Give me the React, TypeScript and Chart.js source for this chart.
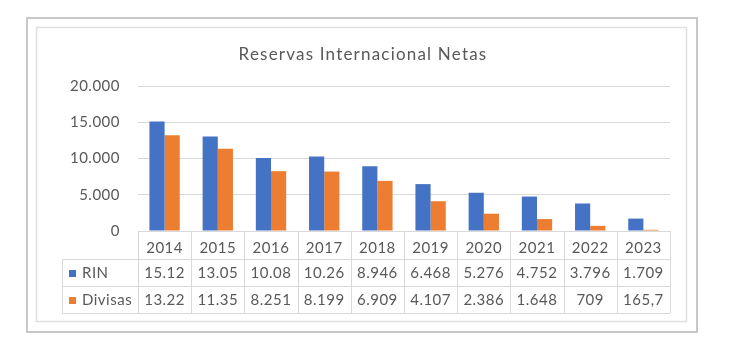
import React, { useEffect, useRef } from "react";
import Chart from "chart.js/auto";

const years = ["2014", "2015", "2016", "2017", "2018", "2019", "2020", "2021", "2022", "2023"];
const rinValues = [15120, 13050, 10080, 10260, 8946, 6468, 5276, 4752, 3796, 1709];
const divisasValues = [13220, 11350, 8251, 8199, 6909, 4107, 2386, 1648, 709, 165.7];
const rinLabels = ["15.12", "13.05", "10.08", "10.26", "8.946", "6.468", "5.276", "4.752", "3.796", "1.709"];
const divisasLabels = ["13.22", "11.35", "8.251", "8.199", "6.909", "4.107", "2.386", "1.648", "709", "165,7"];
const seriesNames = ["RIN", "Divisas"];
const titleText = "Reservas Internacional Netas";

const BLUE = "#4472C4";
const ORANGE = "#ED7D31";
const TEXT = "#595959";
const LINE = "#D9D9D9";
const FONT = "Lato, 'Open Sans', sans-serif";

export default function App() {
  const ref = useRef<HTMLCanvasElement | null>(null);

  useEffect(() => {
    const canvas = ref.current;
    if (!canvas) return;

    const framePlugin = {
      id: "frame",
      beforeDraw(chart: any) {
        const ctx = chart.ctx;
        ctx.save();
        ctx.fillStyle = "#ffffff";
        ctx.fillRect(0, 0, chart.width, chart.height);
        ctx.strokeStyle = "#C8C8C8";
        ctx.lineWidth = 2;
        ctx.strokeRect(27, 18, 670, 314);
        ctx.strokeStyle = "#E0E0E0";
        ctx.lineWidth = 1.5;
        ctx.strokeRect(36.5, 27.5, 650, 294);
        ctx.fillStyle = TEXT;
        ctx.font = `17px ${FONT}`;
        (ctx as any).letterSpacing = "1.2px";
        ctx.textAlign = "center";
        ctx.textBaseline = "middle";
        ctx.fillText(titleText, 363, 55);
        ctx.restore();
        (ctx as any).letterSpacing = "0.5px";
      },
    };

    const tablePlugin = {
      id: "dataTable",
      afterDraw(chart: any) {
        const ctx = chart.ctx;
        const area = chart.chartArea;
        const xs = chart.scales.x;
        const n = years.length;
        const w = (area.right - area.left) / n;
        const y0 = area.bottom;
        const y1 = y0 + 28;
        const y2 = y1 + 27;
        const y3 = y2 + 27;
        const tableLeft = 62;
        ctx.save();
        ctx.strokeStyle = LINE;
        ctx.lineWidth = 1;
        ctx.beginPath();
        for (const y of [y1, y2, y3]) {
          ctx.moveTo(tableLeft, Math.round(y) + 0.5);
          ctx.lineTo(area.right, Math.round(y) + 0.5);
        }
        for (let i = 0; i <= n; i++) {
          const x = Math.round(area.left + i * w) + 0.5;
          ctx.moveTo(x, y0);
          ctx.lineTo(x, y3);
        }
        ctx.moveTo(tableLeft + 0.5, y1);
        ctx.lineTo(tableLeft + 0.5, y3);
        ctx.stroke();

        (ctx as any).letterSpacing = "0.5px";
        ctx.font = `15px ${FONT}`;
        ctx.textBaseline = "middle";
        const rows = [
          { name: seriesNames[0], color: BLUE, labels: rinLabels, yc: (y1 + y2) / 2 },
          { name: seriesNames[1], color: ORANGE, labels: divisasLabels, yc: (y2 + y3) / 2 },
        ];
        for (const r of rows) {
          ctx.fillStyle = r.color;
          ctx.fillRect(69, Math.round(r.yc) - 3, 7, 7);
          ctx.fillStyle = TEXT;
          ctx.textAlign = "left";
          ctx.fillText(r.name, 82, r.yc + 1);
          ctx.textAlign = "center";
          r.labels.forEach((lab, i) => {
            ctx.fillText(lab, xs.getPixelForValue(i), r.yc + 1);
          });
        }
        ctx.restore();
      },
    };

    const chart = new Chart(canvas, {
      type: "bar",
      data: {
        labels: years,
        datasets: [
          { label: seriesNames[0], data: rinValues, backgroundColor: BLUE, categoryPercentage: 0.57, barPercentage: 1 },
          { label: seriesNames[1], data: divisasValues, backgroundColor: ORANGE, categoryPercentage: 0.57, barPercentage: 1 },
        ],
      },
      options: {
        animation: false,
        responsive: false,
        devicePixelRatio: 1,
        layout: { padding: { left: 62, right: 68, top: 86, bottom: 93 } },
        plugins: { legend: { display: false }, title: { display: false }, tooltip: { enabled: false } },
        scales: {
          x: {
            grid: { display: false },
            border: { display: false },
            ticks: { color: TEXT, font: { family: FONT, size: 15 }, padding: 0 },
            afterFit(scale: any) {
              scale.height = 27;
            },
          },
          y: {
            min: 0,
            max: 20000,
            ticks: {
              stepSize: 5000,
              color: TEXT,
              font: { family: FONT, size: 15 },
              padding: 18,
              callback: (v: any) => Number(v).toLocaleString("de-DE"),
            },
            grid: { color: LINE, drawTicks: false },
            border: { display: false },
            afterFit(scale: any) {
              scale.width = 76;
            },
          },
        },
      },
      plugins: [framePlugin, tablePlugin],
    });
    return () => chart.destroy();
  }, []);

  return (
    <div style={{ position: "absolute", left: 0, top: 0, width: 738, height: 351 }}>
      <canvas ref={ref} width={738} height={351} />
    </div>
  );
}
